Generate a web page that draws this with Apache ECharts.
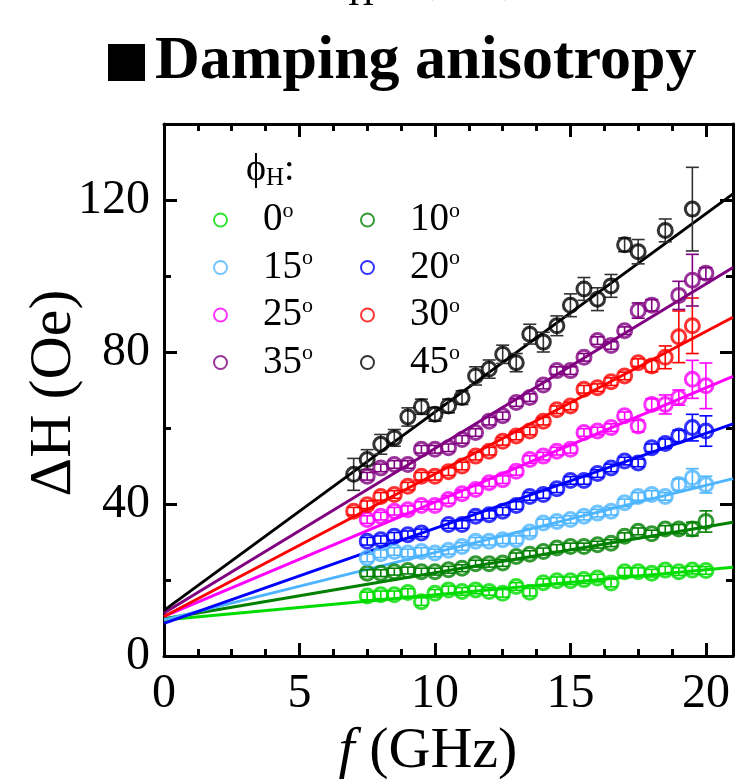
<!DOCTYPE html>
<html>
<head>
<meta charset="utf-8">
<script src="https://cdn.jsdelivr.net/npm/echarts@6/dist/echarts.min.js"></script>
<style>
html, body { margin: 0; padding: 0; background: #fff; }
#chart { width: 742px; height: 780px; }
</style>
</head>
<body>
<div id="chart"></div>
<script>
// Frequency grids (GHz)
const freqA = [7.5, 8, 8.5, 9, 9.5, 10, 10.5, 11, 11.5, 12, 12.5, 13, 13.5, 14, 14.5, 15, 15.5, 16, 16.5, 17, 17.5, 18, 18.5, 19, 19.5, 20];
const freqB = [7, 7.5, 8, 8.5, 9, 9.5, 10, 10.5, 11, 11.5, 12, 12.5, 13, 13.5, 14, 14.5, 15, 15.5, 16, 16.5, 17, 17.5, 18, 18.5, 19, 19.5];

// Linewidth ΔH (Oe) for each in-plane field angle
const dH0  = [15.8, 16.1, 16.1, 16.7, 14.3, 16.5, 17.4, 17.0, 17.4, 17.0, 16.5, 18.3, 16.8, 19.3, 19.8, 19.8, 20.1, 20.5, 19.2, 22.2, 22.2, 21.8, 22.6, 22.2, 22.6, 22.5];
const dH10 = [21.8, 21.8, 22.2, 22.5, 22.2, 22.2, 22.7, 23.1, 24.3, 24.3, 24.5, 26.2, 26.8, 27.5, 28.4, 28.8, 28.8, 29.3, 29.7, 31.5, 32.8, 32.2, 33.4, 33.4, 33.4, 35.4];
const dH15 = [25.8, 26.9, 27.5, 27.1, 27.5, 27.1, 27.8, 28.8, 30.2, 30.2, 30.6, 30.6, 32.6, 35.0, 35.4, 35.9, 36.8, 37.6, 38.1, 40.3, 42.0, 42.5, 42.0, 45.1, 46.9, 45.1];
const dH20 = [30.2, 30.6, 31.5, 31.9, 32.4, null, 34.6, 34.6, 36.8, 37.2, 38.1, 39.6, 42.0, 42.5, 44.0, 46.2, 46.2, 48.0, 49.5, 51.3, 50.8, 54.8, 55.9, 57.9, 60.1, 59.2];
const dH25 = [35.9, 36.8, 38.1, 38.5, 39.6, 39.6, 41.2, 42.7, 43.8, 45.6, 46.4, 48.6, 51.7, 52.6, 53.9, 54.4, 58.8, 59.2, 60.1, 63.2, 60.5, 66.2, 66.2, 68.0, 72.8, 71.1];
const dH30 = [38.1, 39.8, 42.0, 42.5, 44.7, 47.3, 47.3, 48.5, 50.0, 52.6, 53.9, 56.5, 57.9, 59.2, 61.8, 64.8, 65.8, 70.2, 70.6, 72.2, 73.7, 77.2, 76.3, 78.6, 84.0, 86.9];
const dH35 = [47.3, 49.5, 50.4, 50.4, 54.4, 54.4, 54.8, 57.0, 58.8, 61.8, 63.2, 66.7, 68.0, 71.3, 75.1, 75.1, 78.6, 83.0, 81.7, 85.6, 90.9, 92.3, null, 94.9, 98.9, 100.7];
const dH45 = [47.8, 51.7, 55.7, 57.4, 62.9, 65.6, 63.6, 65.8, 68.0, 73.7, 75.5, 79.4, 77.2, 84.7, 82.6, 86.9, 92.3, 96.6, 93.9, 97.4, 108.2, 106.4, null, 112.0, null, 117.6];

// Error bars (Oe)
const err0  = [1, 1, 1, 1, 1, 1, 1, 1, 1, 1, 1, 1, 1, 1, 1, 1, 1, 1, 1, 1, 1, 1, 1, 1, 1, 1];
const err10 = [0.9, 0.9, 0.9, 0.9, 0.9, 0.9, 0.9, 0.9, 0.9, 0.9, 0.9, 0.9, 0.9, 0.9, 0.9, 0.9, 0.9, 0.9, 0.9, 0.9, 0.9, 0.9, 0.9, 1.2, 1.8, 2.8];
const err15 = [1, 1, 1, 1, 1, 1, 1, 1, 1, 1, 1, 1, 1, 1, 1, 1, 1, 1, 1, 1, 1, 1, 1, 1.5, 2.4, 2.2];
const err20 = [1, 1, 1, 1, 1, 1, 1, 1, 1, 1, 1, 1, 1, 1, 1, 1, 1, 1, 1, 1, 1, 1, 1.2, 1.5, 3.5, 4.0];
const err25 = [1, 1, 1, 1, 1, 1, 1, 1, 1, 1, 1, 1, 1, 1, 1, 1, 1, 1, 1, 1, 1.5, 1.5, 2.5, 2.0, 5.0, 6.0];
const err30 = [1, 1, 1, 1, 1, 1, 1, 1, 1, 1, 1, 1, 1, 1, 1, 1, 1, 1, 1, 1, 1, 1, 1.5, 3.0, 6.8, 7.3];
const err35 = [1, 1, 1, 1, 1, 1, 1, 1, 1, 1, 1, 1, 1, 1, 1, 1, 1, 1, 1, 1, 2.0, 1.5, null, 3.7, 6.8, 1.5];
const err45 = [4.2, 2.6, 2.6, 2.2, 2.4, 2.0, 1.8, 1.8, 1.8, 2.4, 2.4, 2.4, 2.4, 2.6, 2.6, 2.6, 3.0, 3.0, 3.0, 3.0, 1.8, 3.2, null, 3.0, null, 11.0];

// Linear fits ΔH = ΔH0 + k·f, drawn over the full frequency axis
const angleNames = ['0°', '10°', '15°', '20°', '25°', '30°', '35°', '45°'];
const fitIntercept = [9.5, 9.8, 9.5, 8.6, 10.4, 10.4, 11.3, 12.0];
const fitSlope = [0.66, 1.21, 1.77, 2.50, 3.01, 3.75, 4.33, 5.22];
const fitRange = [0, 21];

const colors = ['#00dc00', '#008000', '#4db5ff', '#0000ff', '#ff00ff', '#ff0000', '#800080', '#000000'];
const freqs = [freqA, freqA, freqA, freqA, freqA, freqB, freqA, freqB];
const values = [dH0, dH10, dH15, dH20, dH25, dH30, dH35, dH45];
const errors = [err0, err10, err15, err20, err25, err30, err35, err45];

const serif = 'Liberation Serif';

function points(i) {
  const out = [];
  freqs[i].forEach((f, j) => {
    if (values[i][j] != null) out.push([f, values[i][j], errors[i][j] || 0]);
  });
  return out;
}

const series = [];
// fitted lines
angleNames.forEach((name, i) => {
  series.push({
    name: name + ' fit', type: 'line', xAxisIndex: 0, yAxisIndex: 0,
    data: fitRange.map(f => [f, fitIntercept[i] + fitSlope[i] * f]),
    showSymbol: false, symbol: 'none', silent: true, z: 2,
    lineStyle: { color: colors[i], width: 3 }
  });
});
// error bars
angleNames.forEach((name, i) => {
  const c = colors[i] === '#000000' ? '#333' : colors[i];
  series.push({
    name: name + ' err', type: 'custom', xAxisIndex: 0, yAxisIndex: 0, z: 3, silent: true,
    data: points(i),
    renderItem: (params, api) => {
      const x = api.value(0), y = api.value(1), e = api.value(2);
      const t = api.coord([x, y + e]), b = api.coord([x, y - e]);
      const hw = 6.5;
      const st = { stroke: c, lineWidth: 1.6 };
      return {
        type: 'group', children: [
          { type: 'line', shape: { x1: t[0], y1: t[1], x2: b[0], y2: b[1] }, style: st },
          { type: 'line', shape: { x1: t[0] - hw, y1: t[1], x2: t[0] + hw, y2: t[1] }, style: st },
          { type: 'line', shape: { x1: b[0] - hw, y1: b[1], x2: b[0] + hw, y2: b[1] }, style: st }
        ]
      };
    }
  });
});
// measured points
angleNames.forEach((name, i) => {
  series.push({
    name: name, type: 'scatter', xAxisIndex: 0, yAxisIndex: 0, z: 4,
    data: points(i).map(p => [p[0], p[1]]),
    symbol: 'circle', symbolSize: 14,
    itemStyle: { color: 'rgba(255,255,255,0)', borderColor: colors[i], borderWidth: 3 }
  });
});

const tickLine = { color: '#000', width: 3 };
function xAx(pos, interval, len, labels, line) {
  return {
    type: 'value', position: pos, min: 0, max: 21, interval: interval,
    axisLine: { show: line, onZero: false, lineStyle: { color: '#000', width: 3 } },
    axisTick: { show: true, inside: true, length: len, lineStyle: tickLine },
    axisLabel: labels ? { show: true, showMaxLabel: false, margin: 14, fontFamily: serif, fontSize: 48, color: '#000' } : { show: false },
    splitLine: { show: false }
  };
}
function yAx(pos, interval, len, labels, line) {
  return {
    type: 'value', position: pos, min: 0, max: 140, interval: interval,
    axisLine: { show: line, onZero: false, lineStyle: { color: '#000', width: 3 } },
    axisTick: { show: true, inside: true, length: len, lineStyle: tickLine },
    axisLabel: labels ? { show: true, showMaxLabel: false, margin: 14, fontFamily: serif, fontSize: 48, color: '#000' } : { show: false },
    splitLine: { show: false }
  };
}

const legendText = {
  fontFamily: serif, fontSize: 39, color: '#000', lineHeight: 40, padding: [0, 0, 0, 31],
  rich: { s: { fontFamily: serif, fontSize: 22, lineHeight: 20, verticalAlign: 'top', color: '#000' } }
};
const legendFmt = name => name.replace('°', '') + '{s|o}';
function legend(names, left) {
  return {
    data: names, orient: 'vertical', left: left, top: 195,
    itemWidth: 13, itemHeight: 13, itemGap: 7.5,
    icon: 'circle', selectedMode: false,
    formatter: legendFmt, textStyle: legendText
  };
}

const chart = echarts.init(document.getElementById('chart'), null, { renderer: 'canvas' });
chart.setOption({
  animation: false,
  backgroundColor: '#fff',
  grid: { left: 164, right: 9, top: 124, bottom: 124 },
  xAxis: [xAx('bottom', 5, 13, true, true), xAx('bottom', 1.25, 7, false, false), xAx('top', 5, 13, false, true), xAx('top', 1.25, 7, false, false)],
  yAxis: [yAx('left', 40, 13, true, true), yAx('left', 20, 7, false, false), yAx('right', 40, 13, false, true), yAx('right', 20, 7, false, false)],
  legend: [legend(['0°', '15°', '25°', '35°'], 208), legend(['10°', '20°', '30°', '45°'], 355)],
  series: series,
  graphic: [
    // axis caption of the panel above, mostly outside the canvas
    { type: 'text', x: 318, y: -23, silent: true, style: { text: 'ϕ', fontFamily: serif, fontSize: 48, fill: '#000', align: 'left', verticalAlign: 'middle' } },
    { type: 'text', x: 348, y: -4, silent: true, style: { text: 'H', fontFamily: serif, fontSize: 36, fill: '#000', align: 'left', verticalAlign: 'middle' } },
    { type: 'text', x: 418, y: -23, silent: true, style: { text: '(deg)', fontFamily: serif, fontSize: 48, fill: '#000', align: 'left', verticalAlign: 'middle' } },
    { type: 'rect', shape: { x: 108, y: 44, width: 37, height: 37 }, style: { fill: '#000' }, silent: true },
    {
      type: 'text', x: 155, y: 62, silent: true,
      style: { text: 'Damping anisotropy', fontFamily: serif, fontWeight: 'bold', fontSize: 62, fill: '#000', align: 'left', verticalAlign: 'middle' }
    },
    {
      type: 'text', x: 246, y: 170, silent: true,
      style: {
        text: '{a|ϕ}{b|H}{a|:}', align: 'left', verticalAlign: 'middle',
        rich: { a: { fontFamily: serif, fontSize: 38, lineHeight: 42, fill: '#000' }, b: { fontFamily: serif, fontSize: 25, lineHeight: 25, verticalAlign: 'bottom', fill: '#000' } }
      }
    },
    {
      type: 'text', x: 54, y: 393, rotation: Math.PI / 2, silent: true,
      style: { text: 'ΔH (Oe)', fontFamily: serif, fontSize: 60, fill: '#000', align: 'center', verticalAlign: 'middle' }
    },
    {
      type: 'text', x: 428, y: 752, silent: true,
      style: {
        text: '{i|f}{n| (GHz)}', align: 'center', verticalAlign: 'middle',
        rich: { i: { fontFamily: serif, fontStyle: 'italic', fontSize: 58, fill: '#000' }, n: { fontFamily: serif, fontSize: 58, fill: '#000' } }
      }
    }
  ]
});
</script>
</body>
</html>
